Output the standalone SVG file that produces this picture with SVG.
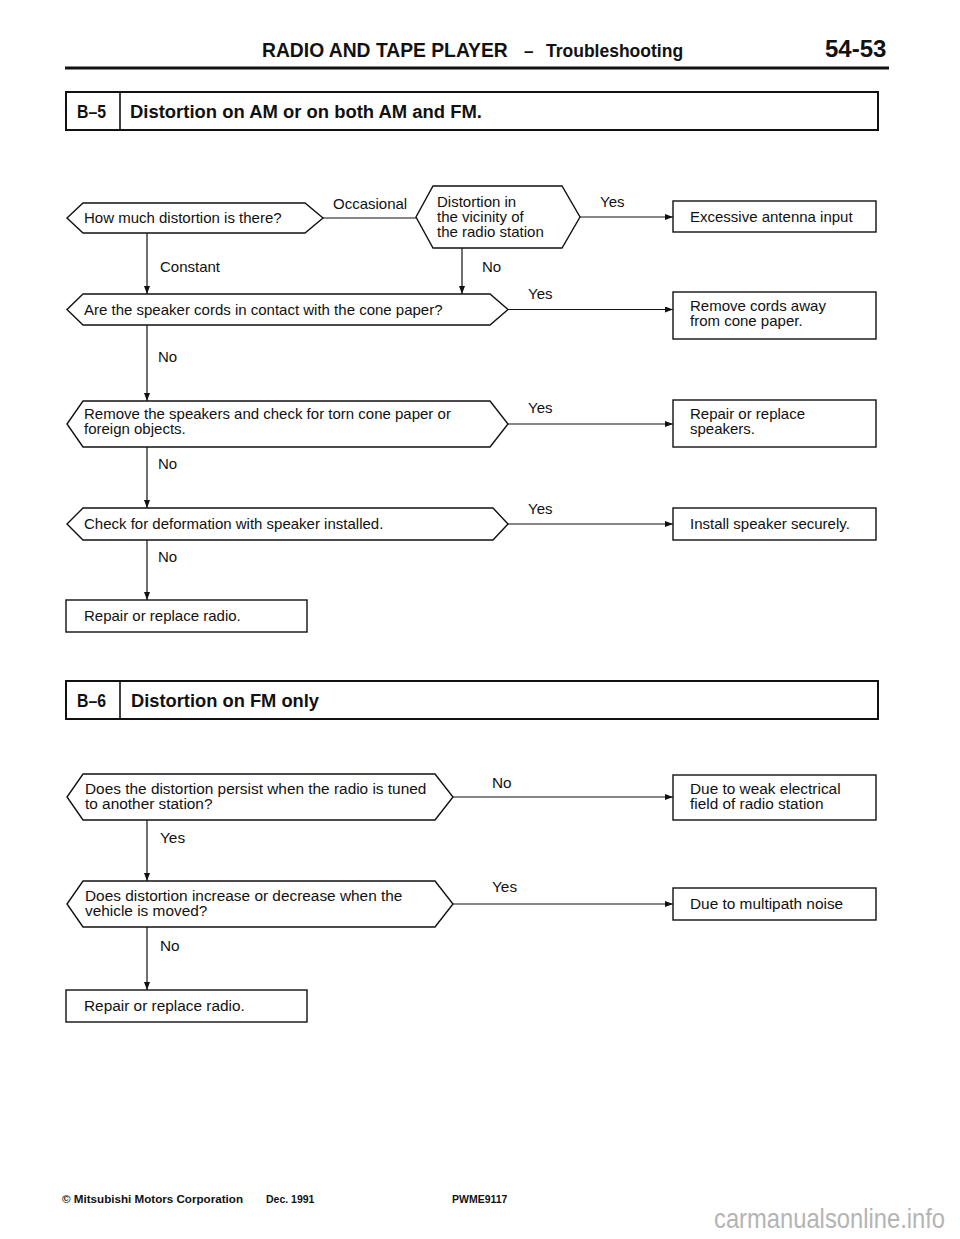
<svg xmlns="http://www.w3.org/2000/svg" width="960" height="1239" viewBox="0 0 960 1239">
<style>
  .bg{fill:#fff}
  .shape{fill:#fff;stroke:#111;stroke-width:1.4}
  .hdr{fill:#fff;stroke:#111;stroke-width:2}
  .t{font-family:"Liberation Sans",Arial,sans-serif;font-size:15px;fill:#111}
  .t6{font-family:"Liberation Sans",Arial,sans-serif;font-size:15.4px;fill:#111}
  .b{font-family:"Liberation Sans",Arial,sans-serif;font-weight:bold;fill:#111}
  .conn line{stroke:#111;stroke-width:1.2;fill:none}
  .conn line.arr{marker-end:url(#ah)}
  .ft{font-family:"Liberation Sans",Arial,sans-serif;font-weight:bold;font-size:10.5px;fill:#111}
  .wm{font-family:"Liberation Sans",Arial,sans-serif;font-size:27px;fill:#b4b4b4}
</style>
<defs>
  <marker id="ah" markerUnits="userSpaceOnUse" markerWidth="8" markerHeight="6" refX="8" refY="3" orient="auto">
    <path d="M0,0 L8,3 L0,6 z" fill="#111"/>
  </marker>
</defs>
<rect class="bg" x="0" y="0" width="960" height="1239"/>

<g id="page-header">
  <text class="b" x="262" y="57" font-size="19.3">RADIO AND TAPE PLAYER</text>
  <text class="b" x="524" y="57" font-size="17">–</text>
  <text class="b" x="546" y="57" font-size="17.5">Troubleshooting</text>
  <text class="b" x="825" y="57" font-size="24">54-53</text>
  <line x1="65" y1="68" x2="889" y2="68" stroke="#111" stroke-width="3"/>
</g>

<g id="section-b5">
  <rect class="hdr" x="66" y="92" width="812" height="38"/>
  <line x1="120" y1="92" x2="120" y2="130" stroke="#111" stroke-width="1.6"/>
  <text class="b" x="77" y="118" font-size="18" textLength="29" lengthAdjust="spacingAndGlyphs">B–5</text>
  <text class="b" x="130" y="118" font-size="18" textLength="352" lengthAdjust="spacingAndGlyphs">Distortion on AM or on both AM and FM.</text>
</g>

<g id="connectors">
  <g class="conn">
    <line x1="323" y1="218" x2="416" y2="218"/>
    <line class="arr" x1="580" y1="217" x2="673" y2="217"/>
    <line class="arr" x1="147" y1="233" x2="147" y2="294"/>
    <line class="arr" x1="462" y1="248" x2="462" y2="294"/>
    <line class="arr" x1="508" y1="309.5" x2="673" y2="309.5"/>
    <line class="arr" x1="147" y1="325" x2="147" y2="401"/>
    <line class="arr" x1="508" y1="424" x2="673" y2="424"/>
    <line class="arr" x1="147" y1="447" x2="147" y2="508"/>
    <line class="arr" x1="508" y1="524" x2="673" y2="524"/>
    <line class="arr" x1="147" y1="540" x2="147" y2="600"/>
    <line class="arr" x1="453" y1="797" x2="673" y2="797"/>
    <line class="arr" x1="147" y1="820" x2="147" y2="881"/>
    <line class="arr" x1="453" y1="904" x2="673" y2="904"/>
    <line class="arr" x1="147" y1="927" x2="147" y2="990"/>
  </g>
  <text class="t" x="333" y="209">Occasional</text>
  <text class="t" x="600" y="207">Yes</text>
  <text class="t" x="160" y="272">Constant</text>
  <text class="t" x="482" y="272">No</text>
  <text class="t" x="528" y="299">Yes</text>
  <text class="t" x="158" y="362">No</text>
  <text class="t" x="528" y="413">Yes</text>
  <text class="t" x="158" y="469">No</text>
  <text class="t" x="528" y="514">Yes</text>
  <text class="t" x="158" y="562">No</text>
  <text class="t6" x="492" y="788">No</text>
  <text class="t6" x="160" y="843">Yes</text>
  <text class="t6" x="492" y="892">Yes</text>
  <text class="t6" x="160" y="951">No</text>
</g>

<g id="q-how-much">
  <polygon class="shape" points="83,203 305,203 323,218 305,233 83,233 67,218"/>
  <text class="t" x="84" y="223">How much distortion is there?</text>
</g>
<g id="q-vicinity">
  <polygon class="shape" points="433,186 562,186 580,217 562,248 433,248 416,217"/>
  <text class="t" x="437" y="207">Distortion in</text>
  <text class="t" x="437" y="222">the vicinity of</text>
  <text class="t" x="437" y="237">the radio station</text>
</g>
<g id="r-antenna">
  <rect class="shape" x="673" y="201" width="203" height="31"/>
  <text class="t" x="690" y="222">Excessive antenna input</text>
</g>
<g id="q-cords">
  <polygon class="shape" points="83,294 490,294 508,309.5 490,325 83,325 67,309.5"/>
  <text class="t" x="84" y="315">Are the speaker cords in contact with the cone paper?</text>
</g>
<g id="r-cords">
  <rect class="shape" x="673" y="292" width="203" height="47"/>
  <text class="t" x="690" y="311">Remove cords away</text>
  <text class="t" x="690" y="326">from cone paper.</text>
</g>
<g id="q-remove-speakers">
  <polygon class="shape" points="83,401 490,401 508,424 490,447 83,447 67,424"/>
  <text class="t" x="84" y="419">Remove the speakers and check for torn cone paper or</text>
  <text class="t" x="84" y="434">foreign objects.</text>
</g>
<g id="r-speakers">
  <rect class="shape" x="673" y="400" width="203" height="47"/>
  <text class="t" x="690" y="419">Repair or replace</text>
  <text class="t" x="690" y="434">speakers.</text>
</g>
<g id="q-deformation">
  <polygon class="shape" points="83,508 493,508 508,524 493,540 83,540 67,524"/>
  <text class="t" x="84" y="529">Check for deformation with speaker installed.</text>
</g>
<g id="r-install">
  <rect class="shape" x="673" y="508" width="203" height="32"/>
  <text class="t" x="690" y="529">Install speaker securely.</text>
</g>
<g id="r-radio-b5">
  <rect class="shape" x="66" y="600" width="241" height="32"/>
  <text class="t" x="84" y="621">Repair or replace radio.</text>
</g>

<g id="section-b6">
  <rect class="hdr" x="66" y="681" width="812" height="38"/>
  <line x1="120" y1="681" x2="120" y2="719" stroke="#111" stroke-width="1.6"/>
  <text class="b" x="77" y="707" font-size="18" textLength="29" lengthAdjust="spacingAndGlyphs">B–6</text>
  <text class="b" x="131" y="707" font-size="18" textLength="188" lengthAdjust="spacingAndGlyphs">Distortion on FM only</text>
</g>

<g id="q-persist">
  <polygon class="shape" points="83,774 435,774 453,797 435,820 83,820 67,797"/>
  <text class="t6" x="85" y="794">Does the distortion persist when the radio is tuned</text>
  <text class="t6" x="85" y="809">to another station?</text>
</g>
<g id="r-weak">
  <rect class="shape" x="673" y="775" width="203" height="45"/>
  <text class="t6" x="690" y="794">Due to weak electrical</text>
  <text class="t6" x="690" y="809">field of radio station</text>
</g>
<g id="q-moved">
  <polygon class="shape" points="83,881 435,881 453,904 435,927 83,927 67,904"/>
  <text class="t6" x="85" y="901">Does distortion increase or decrease when the</text>
  <text class="t6" x="85" y="916">vehicle is moved?</text>
</g>
<g id="r-multipath">
  <rect class="shape" x="673" y="888" width="203" height="32"/>
  <text class="t6" x="690" y="909">Due to multipath noise</text>
</g>
<g id="r-radio-b6">
  <rect class="shape" x="66" y="990" width="241" height="32"/>
  <text class="t6" x="84" y="1011">Repair or replace radio.</text>
</g>

<g id="footer">
  <text class="ft" x="62" y="1203" textLength="181" lengthAdjust="spacingAndGlyphs">© Mitsubishi Motors Corporation</text>
  <text class="ft" x="266" y="1203">Dec. 1991</text>
  <text class="ft" x="452" y="1203">PWME9117</text>
  <text class="wm" transform="translate(714,1228) scale(0.88,1)" x="0" y="0">carmanualsonline.info</text>
</g>
</svg>
